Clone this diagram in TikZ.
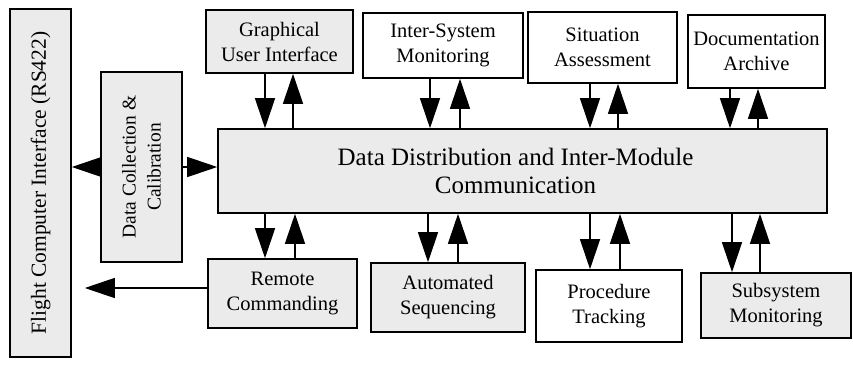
\documentclass[tikz,border=0pt]{standalone}
\usepackage{fontspec}
\setmainfont{Liberation Serif}
\usetikzlibrary{arrows.meta}
\definecolor{stip}{gray}{0.92}
\tikzset{
  box/.style={draw=black, line width=1.6pt, inner sep=0pt, align=center,
    font=\fontsize{20.5}{25}\selectfont},
  shaded/.style={box, fill=stip},
  plain/.style={box, fill=white},
  arr/.style={line width=1.3pt, -{Triangle[width=20pt,length=30pt]}},
  vtext/.style={rotate=90, align=center, font=\fontsize{19.5}{25}\selectfont}
}
\begin{document}
\begin{tikzpicture}[x=1pt,y=-1pt]
\useasboundingbox[fill=white] (0,0) rectangle (853,372);
% left column
\node[shaded, minimum width=61pt, minimum height=348pt] (flight) at (40.5,183) {};
\node[vtext, font=\fontsize{21.5}{25}\selectfont] (flightt) at (flight.center) {Flight Computer Interface (RS422)};
\node[shaded, minimum width=81pt, minimum height=190pt] (datacol) at (141.5,167) {};
\node[vtext] (datacolt) at (datacol.center) {Data Collection \&\\Calibration};
% main box
\node[shaded, minimum width=609pt, minimum height=84pt] (main) at (522.5,171) {};
\node[align=center, font=\fontsize{25}{28}\selectfont] (maint) at ([xshift=-7pt]main.center) {Data Distribution and Inter-Module\\Communication};
% top boxes
\node[shaded, minimum width=147pt, minimum height=63pt] (gui) at (279.5,41.5) {Graphical\\User Interface};
\node[plain, minimum width=160pt, minimum height=65pt] (inter) at (443,45.5) {Inter-System\\Monitoring};
\node[plain, minimum width=149pt, minimum height=71pt] (sit) at (602.5,47.5) {Situation\\Assessment};
\node[plain, minimum width=137pt, minimum height=73pt] (doc) at (756.5,51.5) {Documentation\\Archive};
% bottom boxes
\node[shaded, minimum width=149pt, minimum height=69pt] (remote) at (282.5,293.5) {Remote\\Commanding};
\node[shaded, minimum width=154pt, minimum height=69pt] (auto) at (448,297.5) {Automated\\Sequencing};
\node[plain, minimum width=146pt, minimum height=72pt] (proc) at (609,306) {Procedure\\Tracking};
\node[shaded, minimum width=150pt, minimum height=65pt] (subs) at (776,305.5) {Subsystem\\Monitoring};
% arrow x positions
\coordinate (t1) at (265,0); \coordinate (u1) at (293,0);
\coordinate (t2) at (430,0); \coordinate (u2) at (460,0);
\coordinate (t3) at (590,0); \coordinate (u3) at (618,0);
\coordinate (t4) at (730,0); \coordinate (u4) at (758,0);
\coordinate (b1) at (265,0); \coordinate (v1) at (295,0);
\coordinate (b2) at (428,0); \coordinate (v2) at (458,0);
\coordinate (b3) at (590,0); \coordinate (v3) at (620,0);
\coordinate (b4) at (732,0); \coordinate (v4) at (760,0);
% top arrows
\draw[arr] (gui.south -| t1) -- (main.north -| t1);
\draw[arr] (main.north -| u1) -- (gui.south -| u1);
\draw[arr] (inter.south -| t2) -- (main.north -| t2);
\draw[arr] (main.north -| u2) -- (inter.south -| u2);
\draw[arr] (sit.south -| t3) -- (main.north -| t3);
\draw[arr] (main.north -| u3) -- (sit.south -| u3);
\draw[arr] (doc.south -| t4) -- (main.north -| t4);
\draw[arr] (main.north -| u4) -- (doc.south -| u4);
% bottom arrows
\draw[arr] (main.south -| b1) -- (remote.north -| b1);
\draw[arr] (remote.north -| v1) -- (main.south -| v1);
\draw[arr] (main.south -| b2) -- (auto.north -| b2);
\draw[arr] (auto.north -| v2) -- (main.south -| v2);
\draw[arr] (main.south -| b3) -- (proc.north -| b3);
\draw[arr] (proc.north -| v3) -- (main.south -| v3);
\draw[arr] (main.south -| b4) -- (subs.north -| b4);
\draw[arr] (subs.north -| v4) -- (main.south -| v4);
% left arrows
\draw[arr] (datacol.west) -- (flight.east |- datacol.west);
\draw[arr] (datacol.east) -- (main.west |- datacol.east);
\coordinate (r1) at (0,288);
\draw[arr, shorten >=13pt] (remote.west |- r1) -- (flight.east |- r1);
\end{tikzpicture}
\end{document}
